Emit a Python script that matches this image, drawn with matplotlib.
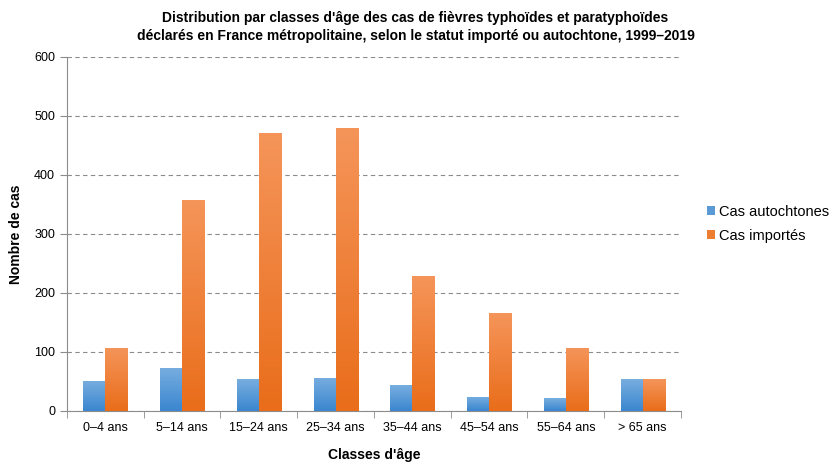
import numpy as np
import matplotlib
matplotlib.use("Agg")
import matplotlib.pyplot as plt
from matplotlib.colors import LinearSegmentedColormap
from matplotlib.patches import Patch

plt.rcParams['font.family'] = ['Liberation Sans', 'DejaVu Sans']

categories = ['0–4 ans', '5–14 ans', '15–24 ans', '25–34 ans',
              '35–44 ans', '45–54 ans', '55–64 ans', '> 65 ans']
autochtones = [51, 73, 54, 56, 44, 24, 22, 54]
importes = [107, 358, 471, 480, 229, 166, 107, 54]

blue_top, blue_bot = '#78aee0', '#3a86cf'
orange_top, orange_bot = '#f5955a', '#e96d1a'

fig = plt.figure(figsize=(8.31, 4.71), dpi=100)
ax = fig.add_axes([0.0806, 0.1274, 0.7389, 0.7516])

x = np.arange(len(categories))
w = 0.287


def grad_bars(xs, vals, top, bot):
    bars = ax.bar(xs, vals, width=w, color='none', edgecolor='none', zorder=3)
    cmap = LinearSegmentedColormap.from_list('g', [bot, top])
    grad = np.linspace(0, 1, 256).reshape(-1, 1)
    for b in bars:
        x0, y0 = b.get_x(), b.get_y()
        h = b.get_height()
        im = ax.imshow(grad, cmap=cmap, origin='lower', aspect='auto',
                       extent=[x0, x0 + b.get_width(), y0, y0 + h], zorder=3)
        im.set_clip_path(b)
    return bars


grad_bars(x - w / 2, autochtones, blue_top, blue_bot)
grad_bars(x + w / 2, importes, orange_top, orange_bot)

ax.set_xlim(-0.5, len(categories) - 0.5)
ax.set_ylim(0, 600)
ax.set_yticks(range(0, 601, 100))
ax.yaxis.grid(True, linestyle=(0, (4, 3)), color='#8c8c8c', linewidth=0.8)
ax.set_axisbelow(True)

ax.set_xticks(x)
ax.set_xticklabels(categories, fontsize=9)
ax.tick_params(axis='x', length=0, pad=8)
ax.set_xticks(np.arange(-0.5, len(categories)), minor=True)
ax.tick_params(axis='x', which='minor', length=5, color='#8c8c8c', direction='out')
ax.tick_params(axis='y', length=5, color='#8c8c8c', labelsize=9, direction='out')

for s in ['top', 'right']:
    ax.spines[s].set_visible(False)
for s in ['left', 'bottom']:
    ax.spines[s].set_color('#8c8c8c')

ax.set_ylabel('Nombre de cas', fontsize=10, fontweight='bold', labelpad=8)
ax.set_xlabel("Classes d'âge", fontsize=10, fontweight='bold', labelpad=10)

fig.suptitle("Distribution par classes d'âge des cas de fièvres typhoïdes et paratyphoïdes\n"
             "déclarés en France métropolitaine, selon le statut importé ou autochtone, 1999–2019",
             fontsize=10, fontweight='bold', x=0.5, y=0.976, linespacing=1.3)

handles = [Patch(facecolor='#5b9bd5', label='Cas autochtones'),
           Patch(facecolor='#ed7d31', label='Cas importés')]
fig.legend(handles=handles, loc='center left', bbox_to_anchor=(0.835, 0.525),
           frameon=False, fontsize=10.5, handlelength=0.55, handleheight=0.55,
           handletextpad=0.3, labelspacing=0.7)

fig.savefig('out.png', dpi=100)
